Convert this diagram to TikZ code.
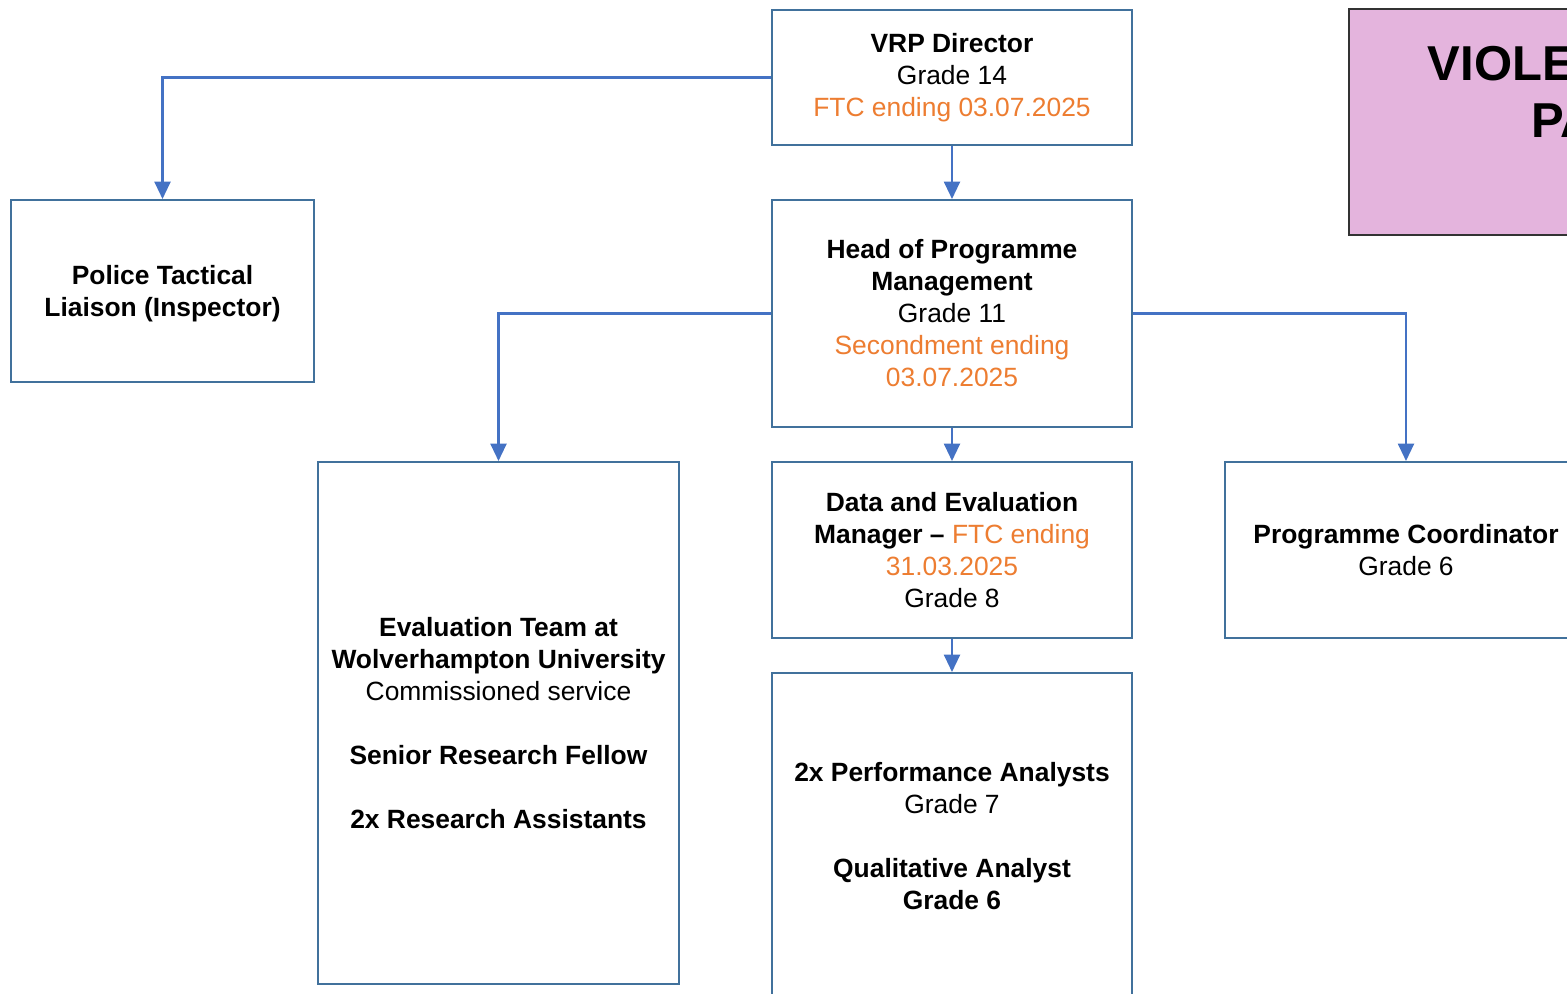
\documentclass[tikz,border=0pt]{standalone}
\usepackage{fontspec}
\setmainfont{Liberation Sans}
\usetikzlibrary{arrows.meta}
\definecolor{lineblue}{RGB}{68,114,196}
\definecolor{boxblue}{RGB}{65,113,156}
\definecolor{ftcorange}{RGB}{237,125,49}
\definecolor{titlepink}{RGB}{228,180,221}
\newcommand{\ftc}[1]{\textcolor{ftcorange}{#1}}
\begin{document}
\begin{tikzpicture}[x=0.75pt,y=-0.75pt,
    post/.style={draw=boxblue, line width=1.5pt, fill=white, align=center, inner sep=0pt,
        font=\fontsize{19.8}{24}\selectfont},
    link/.style={draw=lineblue, line width=1.6pt, -{Triangle[length=13pt,width=12pt]}}]
\useasboundingbox (0,0) rectangle (1567,994);
\clip (0,0) rectangle (1567,994);

%\draw[help lines] (0,0) grid (1567,994);

\node[draw=black!80, line width=0.8pt, fill=titlepink, minimum width=534.75pt, minimum height=169.5pt] (title) at (1705.5,122) {};
\node[font=\bfseries\fontsize{36.75}{42.75}\selectfont, align=center, inner sep=0pt] (titletext) at (1705.5,92) {VIOLENCE REDUCTION\\PARTNERSHIP};

\node[post, minimum width=270pt, minimum height=101.25pt] (D) at (952,77.5) {\textbf{VRP Director}\\Grade 14\\\ftc{FTC ending 03.07.2025}};
\node[post, minimum width=227.25pt, minimum height=136.5pt] (P) at (162.5,291) {\raisebox{-2.25pt}[\height][\depth]{\bfseries\begin{tabular}{@{}c@{}}Police Tactical\\Liaison (Inspector)\end{tabular}}};
\node[post, minimum width=270pt, minimum height=170.25pt] (H) at (952,313.5) {\textbf{Head of Programme}\\\textbf{Management}\\Grade 11\\\ftc{Secondment ending}\\\ftc{03.07.2025}};
\node[post, minimum width=270.75pt, minimum height=391.5pt] (E) at (498.5,723) {\textbf{Evaluation Team at}\\\textbf{Wolverhampton University}\\Commissioned service\\[24pt]\textbf{Senior Research Fellow}\\[24pt]\textbf{2x Research Assistants}};
\node[post, minimum width=270pt, minimum height=132pt] (M) at (952,550) {\textbf{Data and Evaluation}\\\textbf{Manager –} \ftc{FTC ending}\\\ftc{31.03.2025}\\Grade 8};
\node[post, minimum width=271.5pt, minimum height=132pt] (C) at (1406,550) {\textbf{Programme Coordinator}\\Grade 6};
\node[post, minimum width=270pt, minimum height=244.5pt] (A) at (952,836) {\textbf{2x Performance Analysts}\\Grade 7\\[24pt]\textbf{Qualitative Analyst}\\\textbf{Grade 6}};

\draw[link] (D.west) -| (P.north);
\draw[link] (D) -- (H);
\draw[link] (H.west) -| (E.north);
\draw[link] (H) -- (M);
\draw[link] (H.east) -| (C.north);
\draw[link] (M) -- (A);
\end{tikzpicture}
\end{document}
